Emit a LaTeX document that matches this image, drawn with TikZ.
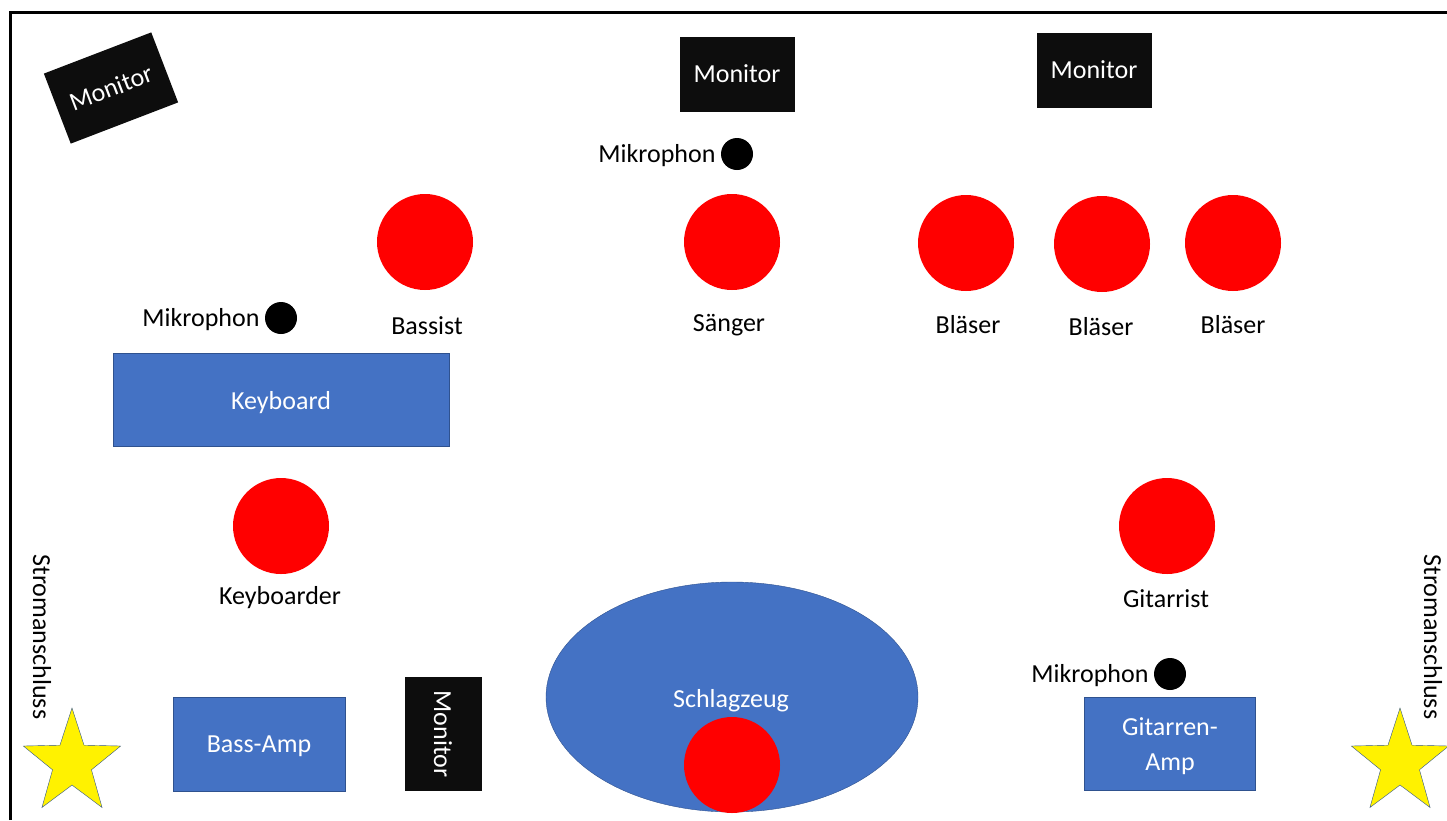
\documentclass[tikz,border=0pt]{standalone}
\usepackage{fontspec}
\setmainfont{Carlito}
\usetikzlibrary{shapes.geometric}
\definecolor{stageblue}{HTML}{4472C4}
\definecolor{stageedge}{HTML}{2F528F}
\definecolor{monblack}{HTML}{0D0D0D}
\tikzstyle{person}=[circle,fill=red,minimum size=96,inner sep=0]
\tikzstyle{mic}=[circle,fill=black,minimum size=32,inner sep=0]
\tikzstyle{monitor}=[fill=monblack,text=white,inner sep=0,minimum width=115,minimum height=75]
\tikzstyle{gear}=[fill=stageblue,draw=stageedge,text=white,inner sep=0,text depth=0pt]
\tikzstyle{plug}=[star,star points=5,star point ratio=2.5,fill=yellow,draw=stageedge,minimum size=110,inner sep=0,xscale=0.93]

\begin{document}
\begin{tikzpicture}[x=1pt,y=-1pt,font=\fontsize{26}{35}\selectfont]
				\useasboundingbox (0,0) rectangle (1447,820);
				\draw[line width=3] (10,820) -- (10,12) -- (1447,12);
				
				% monitore
				\node[monitor,rotate=21] at (111, 88)   (mon1) {Monitor};
				\node[monitor] at (737, 74)   (mon2) {Monitor};
				\node[monitor] at (1094, 70)   (mon3) {Monitor};
				\node[monitor,rotate=-90,minimum width=114,minimum height=77] at (443, 734)   (mon4) {Monitor};
				
				% mikrophone
				\node[mic] at (737, 154)   (mic1) {};
				\node[anchor=east] at (719, 156)   (mic1t) {Mikrophon};
				\node[mic] at (281, 318)   (mic2) {};
				\node[anchor=east] at (263, 320)   (mic2t) {Mikrophon};
				\node[mic] at (1170, 674)   (mic3) {};
				\node[anchor=east] at (1152, 676)   (mic3t) {Mikrophon};
				
				% musiker vorne
				\node[person] at (425, 242)   (bass) {};
				\node at (427, 326)   (basst) {Bassist};
				\node[person] at (732, 242)   (voc) {};
				\node at (729, 325)   (voct) {Sänger};
				\node[person] at (966, 243)   (hrn1) {};
				\node at (968, 325)   (hrn1t) {Bläser};
				\node[person] at (1102, 244)   (hrn2) {};
				\node at (1101, 327)   (hrn2t) {Bläser};
				\node[person] at (1233, 243)   (hrn3) {};
				\node at (1233, 325)   (hrn3t) {Bläser};
				
				% keyboard
				\node[gear,minimum width=336,minimum height=93] at (281, 400)   (keys) {Keyboard};
				\node[person] at (281, 526)   (kbd) {};
				\node at (280, 598)   (kbdt) {Keyboarder};
				\node[person] at (1167, 526)   (git) {};
				\node at (1166, 599)   (gitt) {Gitarrist};
				
				% amps und schlagzeug
				\node[gear,minimum width=172,minimum height=94] at (259, 744)   (bamp) {Bass-Amp};
				\node[gear,minimum width=171,minimum height=93,align=center] at (1170, 744)   (gamp) {Gitarren-\\Amp};
				\node[gear,ellipse,minimum width=372,minimum height=230] at (732, 697)   (drums) {};
				\node[text=white] at (731, 701)   (drumst) {Schlagzeug};
				\node[person] at (732, 765)   (drum) {};
				
				% strom
				\node[plug] at (72, 763)   (plug1) {};
				\node[rotate=-90] at (42, 637)   (plug1t) {Stromanschluss};
				\node[plug] at (1400, 763)   (plug2) {};
				\node[rotate=-90] at (1433, 637)   (plug2t) {Stromanschluss};
			\end{tikzpicture}
\end{document}
